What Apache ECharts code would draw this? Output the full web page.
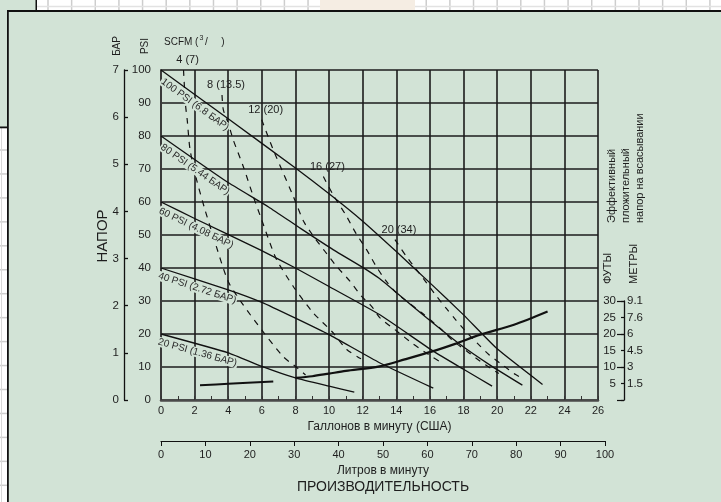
<!DOCTYPE html>
<html><head><meta charset="utf-8">
<script src="https://cdn.jsdelivr.net/npm/echarts@6/dist/echarts.min.js"></script>
<style>html,body{margin:0;padding:0;background:#d2e3d6}#c{width:721px;height:502px}</style>
</head><body><div id="c"></div><script>
// ---------- data ----------
const gpmRange = [0, 26];
const psiRange = [0, 100];
const barRange = [0, 7];
const lpmRange = [0, 100];
const npshFeetRange = [0, 30];
const npshMeterLabels = ['', '1.5', '3', '4.5', '6', '7.6', '9.1']; // at 0,5,10,...,30 ft

const pressureLabels = ['100 PSI (6.8 БАР)', '80 PSI (5.44 БАР)', '60 PSI (4.08 БАР)', '40 PSI (2.72 БАР)', '20 PSI (1.36 БАР)'];
const p100 = [[0,100],[4,85.2],[8,70.3],[10,62.5],[12,54.2],[14,45],[16,35.5],[18,25.8],[20,15.5],[22.7,4.7]];
const p80  = [[0,80],[3.9,66.2],[6.4,58.5],[8.3,52],[10.26,45.5],[12,40.2],[13,36.8],[14,32.6],[15.8,24.9],[17.8,16.8],[19.6,10.5],[21.5,4.5]];
const p60  = [[0,60],[2,55],[5.9,45.5],[8,40],[10,34.4],[13,25.9],[16.2,14.8],[18,9.3],[19.7,4.2]];
const p40  = [[0,40],[4,33.4],[6,29.6],[8,24.8],[10,19.8],[13,11.3],[16.2,3.6]];
const p20  = [[0,20],[4,14.3],[6,10.2],[8,6.7],[10,4.2],[11.5,2.4]];

const airLabels = ['4 (7)', '8 (13.5)', '12 (20)', '16 (27)', '20 (34)'];
const a4  = [[1.34,100],[1.46,89.4],[1.56,84.9],[1.73,75.8],[2.12,66.7],[2.62,57.6],[3.11,49.5],[4.0,35.9],[4.88,28.9],[6.07,20.7],[7.26,13.2],[8.09,9.8],[8.6,7.6]];
const a8  = [[3.63,92.4],[3.71,87.9],[4.0,83.9],[4.3,78.8],[4.9,70.7],[5.49,61.7],[5.99,54.6],[6.48,47.6],[6.88,42.5],[7.87,34.4],[9.06,26.4],[10.25,20.3],[11.05,15.3],[11.9,12.5]];
const a12 = [[5.99,84.9],[6.68,75.8],[7.28,68.7],[7.87,61.7],[8.5,54],[9.16,49],[9.76,45],[10.45,40.5],[11.24,36],[11.94,31.4],[12.53,28.4],[13.03,24.9],[14,21],[15,17],[16,13.5],[16.8,11]];
const a16 = [[9.66,67.7],[10.26,62],[11,56],[11.6,50.5],[12.24,45.5],[12.8,40.5],[13.4,36],[14,32.5],[14.6,30],[15.5,26.5],[16.7,21.3],[17.4,17.8],[18.2,14.8],[19,11.7],[19.6,9.7],[20.1,8]];
const a20 = [[13.92,48.6],[14.6,43.5],[15.2,39.5],[15.8,35.5],[16.4,31.4],[17.0,27.6],[17.5,24.5],[18.1,21],[18.8,17.3],[19.5,13.8],[20.3,10.7],[21.1,7.7],[21.5,6.5]];

// NPSH curve (feet, drawn on same pixel scale as PSI)
const npshLow  = [[2.32,4.5],[4,4.9],[6.68,5.6]];
const npshMain = [[8,6.7],[9,7.2],[10,8],[11,8.8],[13,10.2],[14.5,12.3],[16.2,14.8],[17.5,17],[19,19.8],[21,22.8],[23,26.8]];

// ---------- chart ----------
const FONT = 'Liberation Sans, Arial, sans-serif';
const INK = '#1e1e1e';
const GRID = '#1c1c1c';
const BG = '#d2e3d6';
const chart = echarts.init(document.getElementById('c'), null, {renderer:'canvas', width:721, height:502});

const pressureSets = [p100, p80, p60, p40, p20];
const airSets = [a4, a8, a12, a16, a20];

const series = [];
pressureSets.forEach(d => series.push({type:'line', xAxisIndex:0, yAxisIndex:0, data:d, symbol:'none', smooth:0.15, silent:true,
  lineStyle:{color:'#111', width:1.3}, z:3}));
airSets.forEach(d => series.push({type:'line', xAxisIndex:0, yAxisIndex:0, data:d, symbol:'none', smooth:0.25, silent:true,
  lineStyle:{color:'#111', width:1.2, type:[6,6]}, z:3}));
series.push({type:'line', xAxisIndex:0, yAxisIndex:0, data:npshLow, symbol:'none', smooth:0.3, silent:true, lineStyle:{color:'#111', width:2}, z:4});
series.push({type:'line', xAxisIndex:0, yAxisIndex:0, data:npshMain, symbol:'none', smooth:0.3, silent:true, lineStyle:{color:'#111', width:2.2}, z:4});

const option = {
  animation:false,
  backgroundColor:BG,
  textStyle:{fontFamily:FONT},
  grid:[
    {left:161, top:70, width:437, height:330},
    {left:624, top:301, width:1, height:99},
    {left:161, top:440, width:444, height:1}
  ],
  xAxis:[
    {gridIndex:0, type:'value', min:gpmRange[0], max:gpmRange[1], interval:2, position:'bottom',
     axisLine:{show:true, onZero:false, lineStyle:{color:'#4a4a4a', width:2.5}},
     axisTick:{show:true, inside:true, length:4, lineStyle:{color:'#333'}},
     minorTick:{show:true, splitNumber:2, length:4, lineStyle:{color:'#333', width:1}},
     splitLine:{show:true, lineStyle:{color:GRID, width:1.6}},
     axisLabel:{fontSize:11, color:INK, margin:5, fontFamily:FONT},
     name:'Галлонов в минуту (США)', nameLocation:'middle', nameGap:18,
     nameTextStyle:{fontSize:12, color:INK, fontFamily:FONT}},
    {gridIndex:1, type:'value', min:0, max:1, show:false},
    {gridIndex:2, type:'value', min:lpmRange[0], max:lpmRange[1], interval:10, position:'bottom',
     axisLine:{show:true, onZero:false, lineStyle:{color:'#111', width:1.2}},
     axisTick:{show:true, inside:false, length:5, lineStyle:{color:'#111'}},
     splitLine:{show:false},
     axisLabel:{fontSize:11, color:INK, margin:8, fontFamily:FONT},
     name:'Литров в минуту\n{b|ПРОИЗВОДИТЕЛЬНОСТЬ}', nameLocation:'middle', nameGap:22,
     nameTextStyle:{fontSize:12, color:INK, lineHeight:15, fontFamily:FONT,
       rich:{b:{fontSize:14, lineHeight:19, color:INK, fontFamily:FONT}}}}
  ],
  yAxis:[
    {gridIndex:0, type:'value', min:psiRange[0], max:psiRange[1], interval:10, position:'left',
     axisLine:{show:true, onZero:false, lineStyle:{color:'#3a3a3a', width:2}},
     axisTick:{show:false},
     splitLine:{show:true, lineStyle:{color:GRID, width:1.6}},
     axisLabel:{fontSize:11.5, color:INK, margin:10, fontFamily:FONT}},
    {gridIndex:0, type:'value', min:barRange[0], max:barRange[1], interval:1, position:'left', offset:37,
     axisLine:{show:true, onZero:false, lineStyle:{color:'#111', width:1.3}},
     axisTick:{show:true, inside:true, length:4, lineStyle:{color:'#111', width:1.3}},
     splitLine:{show:false},
     axisLabel:{fontSize:11.5, color:INK, margin:5, fontFamily:FONT}},
    {gridIndex:1, type:'value', min:npshFeetRange[0], max:npshFeetRange[1], interval:5, position:'left',
     axisLine:{show:true, onZero:false, lineStyle:{color:'#111', width:1.3}},
     axisTick:{show:true, inside:false, length:3, lineStyle:{color:'#111', width:1.2}},
     splitLine:{show:false},
     axisLabel:{fontSize:11.5, color:INK, margin:8, fontFamily:FONT, formatter:v => v === 0 ? '' : String(v)}},
    {gridIndex:1, type:'value', min:npshFeetRange[0], max:npshFeetRange[1], interval:10, position:'left',
     axisLine:{show:false, onZero:false}, axisTick:{show:true, inside:false, length:7, lineStyle:{color:'#111', width:1.2}},
     splitLine:{show:false}, axisLabel:{show:false}},
    {gridIndex:1, type:'value', min:npshFeetRange[0], max:npshFeetRange[1], interval:5, position:'right',
     axisLine:{show:false, onZero:false}, axisTick:{show:false}, splitLine:{show:false},
     axisLabel:{fontSize:11.5, color:INK, margin:2, fontFamily:FONT, formatter:v => npshMeterLabels[Math.round(v/5)]}},
    {gridIndex:2, type:'value', show:false, min:0, max:1}
  ],
  series:series
};
chart.setOption(option);

// ---------- labels placed from data through the scales ----------
function yAt(d, x){
  for (let i=0;i<d.length-1;i++){
    if (x>=d[i][0] && x<=d[i+1][0]) { const t=(x-d[i][0])/(d[i+1][0]-d[i][0]); return d[i][1]+t*(d[i+1][1]-d[i][1]); }
  }
  return d[d.length-1][1];
}
const toPx = v => chart.convertToPixel({gridIndex:0}, v);
const g = [];
// decoration of the surrounding page
g.push({type:'rect', silent:true, shape:{x:0,y:0,width:721,height:10}, style:{fill:'#ffffff'}});
for (let x=48; x<721; x+=23.64) g.push({type:'line', silent:true, shape:{x1:x,y1:0,x2:x,y2:10}, style:{stroke:'#cdcdcd', lineWidth:1.5}});
g.push({type:'line', silent:true, shape:{x1:37,y1:6.5,x2:721,y2:6.5}, style:{stroke:'#e2e2e2', lineWidth:1.5}});
g.push({type:'rect', silent:true, shape:{x:320,y:0,width:95,height:10}, style:{fill:'#f5ede3'}});
g.push({type:'rect', silent:true, shape:{x:0,y:0,width:36,height:10}, style:{fill:BG}});
g.push({type:'rect', silent:true, shape:{x:35.5,y:0,width:1.5,height:11}, style:{fill:'#111'}});
g.push({type:'rect', silent:true, shape:{x:0,y:127.5,width:7,height:375}, style:{fill:'#ffffff'}});
for (let y=150; y<502; y+=23.95) g.push({type:'line', silent:true, shape:{x1:0,y1:y,x2:7,y2:y}, style:{stroke:'#cdcdcd', lineWidth:1.5}});
g.push({type:'line', silent:true, shape:{x1:1.5,y1:128,x2:1.5,y2:502}, style:{stroke:'#d8d8d8', lineWidth:1}});
g.push({type:'rect', silent:true, shape:{x:0,y:126.5,width:8,height:1.8}, style:{fill:'#111'}});
g.push({type:'rect', silent:true, shape:{x:7,y:10,width:714,height:2}, style:{fill:'#111'}});
g.push({type:'rect', silent:true, shape:{x:7,y:10,width:1.8,height:492}, style:{fill:'#111'}});

// static texts
const txt = (t, x, y, o) => Object.assign({type:'text', silent:true, x, y, style:Object.assign({text:t, fontSize:11, fontFamily:FONT, fill:INK, align:'center', verticalAlign:'middle'}, (o&&o.style)||{})}, o&&o.rot!==undefined?{rotation:o.rot}:{});
g.push(txt('БАР', 117, 46, {rot:Math.PI/2, style:{fontSize:10}}));
g.push(txt('PSI', 145, 46, {rot:Math.PI/2, style:{fontSize:10}}));
g.push(txt('SCFM (', 164, 42, {style:{fontSize:10, align:'left'}}));
g.push(txt('3', 201.5, 38, {style:{fontSize:7}}));
g.push(txt('/', 206.5, 42, {style:{fontSize:10}}));
g.push(txt(')', 223, 42, {style:{fontSize:10}}));
g.push(txt('НАПОР', 103, 236, {rot:Math.PI/2, style:{fontSize:15}}));
g.push(txt('Эффективный', 611.5, 223, {rot:Math.PI/2, style:{align:'left'}}));
g.push(txt('пложительный', 625.5, 223, {rot:Math.PI/2, style:{align:'left'}}));
g.push(txt('напор на всасывании', 639.5, 223, {rot:Math.PI/2, style:{align:'left'}}));
g.push(txt('ФУТЫ', 608, 284, {rot:Math.PI/2, style:{align:'left'}}));
g.push(txt('МЕТРЫ', 634, 284, {rot:Math.PI/2, style:{align:'left'}}));

// pressure line labels (below each solid line)
pressureSets.forEach((d,i) => {
  const gx = 2.3;
  const p = toPx([gx, yAt(d,gx)]);
  const p1 = toPx([gx-1, yAt(d,gx-1)]);
  const p2 = toPx([gx+1, yAt(d,gx+1)]);
  const th = Math.atan2(p2[1]-p1[1], p2[0]-p1[0]);
  const off = 8;
  g.push({type:'text', silent:true, z:10, x:p[0]-off*Math.sin(th), y:p[1]+off*Math.cos(th), rotation:-th,
    style:{text:pressureLabels[i], fontSize:10, fontFamily:FONT, fill:'#2a2a2a', align:'center', verticalAlign:'middle',
      backgroundColor:BG, padding:[0,1]}});
});
// air consumption labels (above start of each dashed line)
airSets.forEach((d,i) => {
  const p = toPx(d[0]);
  g.push({type:'text', silent:true, z:10, x:p[0]+4, y:p[1]-10,
    style:{text:airLabels[i], fontSize:11, fontFamily:FONT, fill:INK, align:'center', verticalAlign:'middle'}});
});
chart.setOption({graphic:g});
</script></body></html>
